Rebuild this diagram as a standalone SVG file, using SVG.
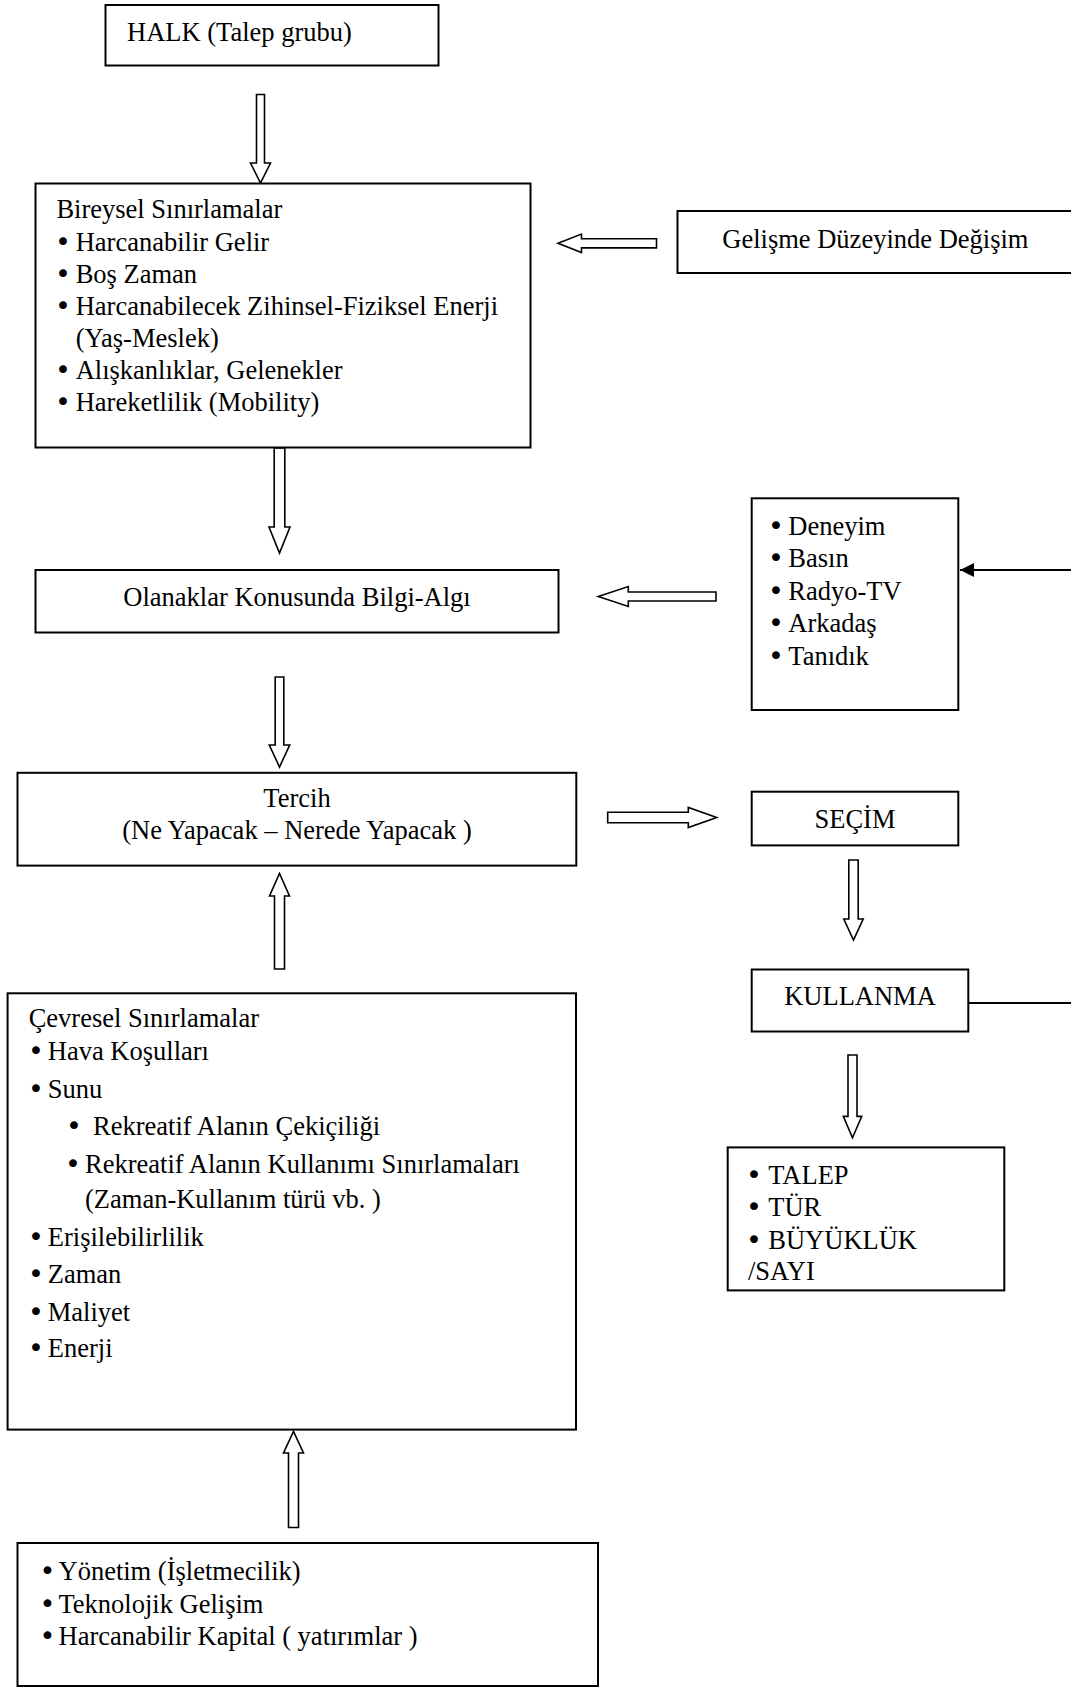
<svg xmlns="http://www.w3.org/2000/svg" width="1071" height="1688" viewBox="0 0 1071 1688">
<defs>
<style>
.box{fill:#fff;stroke:#000;stroke-width:2}
.t{font-family:"Liberation Serif","Times New Roman",serif;font-size:26.5px;fill:#000}
.b{font-family:"DejaVu Sans",sans-serif;font-size:27px;fill:#000}
.c{text-anchor:middle}
.arr{fill:#fff;stroke:#000;stroke-width:1.6;stroke-linejoin:miter}
.ln{fill:none;stroke:#000;stroke-width:2}
</style>
<marker id="fh" viewBox="0 0 14 14" refX="14" refY="7" markerWidth="14" markerHeight="14" markerUnits="userSpaceOnUse" orient="auto">
<path d="M14,7 L0,0 L0,14 Z" fill="#000"/>
</marker>
</defs>
<rect width="1071" height="1688" fill="#fff"/>

<g id="connectors">
<polygon class="arr" points="256.5,94.5 264.5,94.5 264.5,163 270.5,163 260.5,183 250.5,163 256.5,163"/>
<polygon class="arr" points="274.2,448 284.8,448 284.8,527 290,527 279.5,553 269,527 274.2,527"/>
<polygon class="arr" points="275.2,677 283.8,677 283.8,745 289.7,745 279.5,767 269.3,745 275.2,745"/>
<polygon class="arr" points="274.5,969 284.5,969 284.5,896 289.5,896 279.5,873.5 269.5,896 274.5,896"/>
<polygon class="arr" points="288.5,1527.5 298.5,1527.5 298.5,1453 303.5,1453 293.5,1431.5 283.5,1453 288.5,1453"/>
<polygon class="arr" points="656.5,238.7 656.5,247.9 581.5,247.9 581.5,252.5 558,243.3 581.5,234.1 581.5,238.7"/>
<polygon class="arr" points="716,592 716,601 628.3,601 628.3,606.5 598.3,596.5 628.3,586.5 628.3,592"/>
<polygon class="arr" points="607.7,812.3 607.7,822.7 688.3,822.7 688.3,827.5 716.7,817.5 688.3,807.5 688.3,812.3"/>
<polygon class="arr" points="848.8,860 858.2,860 858.2,919 863.2,919 853.5,940 843.8,919 848.8,919"/>
<polygon class="arr" points="848,1055 857,1055 857,1116.4 861.7,1116.4 852.5,1137.8 843.3,1116.4 848,1116.4"/>
<line class="ln" x1="1072" y1="570" x2="960" y2="570" marker-end="url(#fh)"/>
<line class="ln" x1="968.3" y1="1003" x2="1072" y2="1003"/>
</g>

<g id="halk">
<rect class="box" x="105.5" y="5" width="333" height="60.5"/>
<text class="t" x="127" y="40.5">HALK (Talep grubu)</text>
</g>

<g id="bireysel">
<rect class="box" x="35.5" y="183.5" width="495" height="264"/>
<text class="t" x="56.4" y="218">Bireysel Sınırlamalar</text>
<text class="b" x="55" y="250.5">•</text><text class="t" x="75.7" y="250.5">Harcanabilir Gelir</text>
<text class="b" x="55" y="283">•</text><text class="t" x="75.7" y="283">Boş Zaman</text>
<text class="b" x="55" y="315">•</text><text class="t" x="75.7" y="315">Harcanabilecek Zihinsel-Fiziksel Enerji</text>
<text class="t" x="75.7" y="347">(Yaş-Meslek)</text>
<text class="b" x="55" y="379">•</text><text class="t" x="75.7" y="379">Alışkanlıklar, Gelenekler</text>
<text class="b" x="55" y="411">•</text><text class="t" x="75.7" y="411">Hareketlilik (Mobility)</text>
</g>

<g id="gelisme">
<rect class="box" x="677.5" y="211" width="410" height="62"/>
<text class="t" x="722.3" y="247.5">Gelişme Düzeyinde Değişim</text>
</g>

<g id="olanaklar">
<rect class="box" x="35.5" y="570" width="523" height="62.5"/>
<text class="t c" x="297" y="606">Olanaklar Konusunda Bilgi-Algı</text>
</g>

<g id="deneyim">
<rect class="box" x="751.7" y="498.3" width="206.6" height="211.7"/>
<text class="b" x="768" y="535">•</text><text class="t" x="788.3" y="535">Deneyim</text>
<text class="b" x="768" y="567.3">•</text><text class="t" x="788.3" y="567.3">Basın</text>
<text class="b" x="768" y="600">•</text><text class="t" x="788.3" y="600">Radyo-TV</text>
<text class="b" x="768" y="632.3">•</text><text class="t" x="788.3" y="632.3">Arkadaş</text>
<text class="b" x="768" y="665">•</text><text class="t" x="788.3" y="665">Tanıdık</text>
</g>

<g id="tercih">
<rect class="box" x="17.5" y="772.8" width="558.8" height="92.8"/>
<text class="t c" x="297" y="806.5">Tercih</text>
<text class="t c" x="297" y="838.5">(Ne Yapacak – Nerede Yapacak )</text>
</g>

<g id="secim">
<rect class="box" x="751.7" y="791.7" width="206.6" height="53.7"/>
<text class="t c" x="855" y="828">SEÇİM</text>
</g>

<g id="kullanma">
<rect class="box" x="751.7" y="969.5" width="216.6" height="62"/>
<text class="t c" x="860" y="1005">KULLANMA</text>
</g>

<g id="talep">
<rect class="box" x="727.7" y="1147.4" width="276.6" height="143"/>
<text class="b" x="746" y="1183.6">•</text><text class="t" x="768.3" y="1183.6">TALEP</text>
<text class="b" x="746" y="1216.3">•</text><text class="t" x="768.3" y="1216.3">TÜR</text>
<text class="b" x="746" y="1249">•</text><text class="t" x="768.3" y="1249">BÜYÜKLÜK</text>
<text class="t" x="748" y="1280">/SAYI</text>
</g>

<g id="cevresel">
<rect class="box" x="7.6" y="993.3" width="568.4" height="436.3"/>
<text class="t" x="28.7" y="1027">Çevresel Sınırlamalar</text>
<text class="b" x="28" y="1060">•</text><text class="t" x="47.8" y="1060">Hava Koşulları</text>
<text class="b" x="28" y="1097.5">•</text><text class="t" x="47.8" y="1097.5">Sunu</text>
<text class="b" x="66" y="1135">•</text><text class="t" x="93" y="1135">Rekreatif Alanın Çekiçiliği</text>
<text class="b" x="65" y="1172.5">•</text><text class="t" x="85" y="1172.5">Rekreatif Alanın Kullanımı Sınırlamaları</text>
<text class="t" x="85" y="1208">(Zaman-Kullanım türü vb. )</text>
<text class="b" x="28" y="1245.7">•</text><text class="t" x="47.8" y="1245.7">Erişilebilirlilik</text>
<text class="b" x="28" y="1283">•</text><text class="t" x="47.8" y="1283">Zaman</text>
<text class="b" x="28" y="1320.5">•</text><text class="t" x="47.8" y="1320.5">Maliyet</text>
<text class="b" x="28" y="1357">•</text><text class="t" x="47.8" y="1357">Enerji</text>
</g>

<g id="yonetim">
<rect class="box" x="17.5" y="1543" width="580.5" height="143"/>
<text class="b" x="39.5" y="1580">•</text><text class="t" x="58.5" y="1580">Yönetim (İşletmecilik)</text>
<text class="b" x="39.5" y="1612.5">•</text><text class="t" x="58.5" y="1612.5">Teknolojik Gelişim</text>
<text class="b" x="39.5" y="1645">•</text><text class="t" x="58.5" y="1645">Harcanabilir Kapital ( yatırımlar )</text>
</g>
</svg>
